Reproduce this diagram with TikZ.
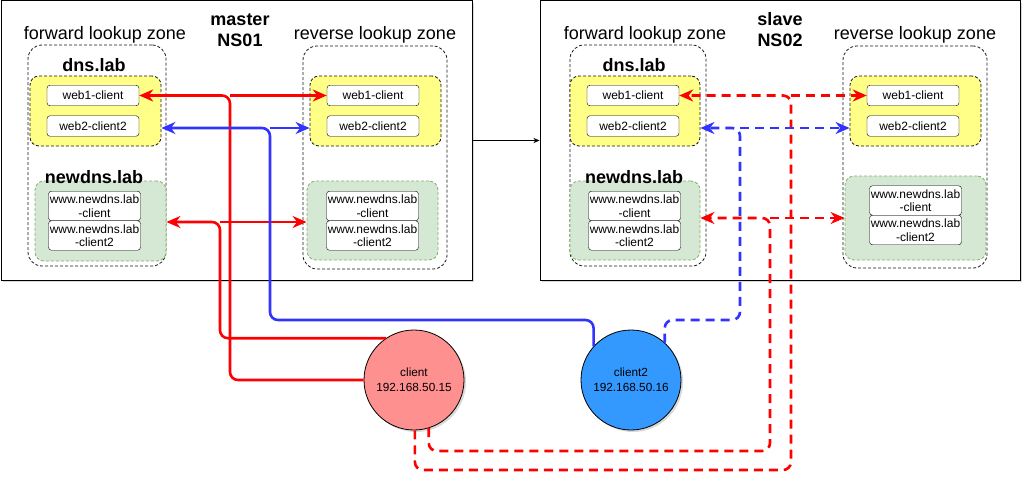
\documentclass[tikz,border=0pt]{standalone}
\usepackage{fontspec}
\setmainfont{Liberation Sans}
\usetikzlibrary{arrows.meta,fit,shadows}
\definecolor{yellowfill}{HTML}{FFFF88}
\definecolor{greenfill}{HTML}{D5E8D4}
\definecolor{greenline}{HTML}{82B366}
\definecolor{clientfill}{HTML}{FF9090}
\definecolor{clienttwofill}{HTML}{3399FF}
\definecolor{linkred}{HTML}{FF0000}
\definecolor{linkblue}{HTML}{3333FF}

\begin{document}
\begin{tikzpicture}[x=1pt,y=-1pt,
	server/.style={draw,line width=1pt,inner sep=0pt,fill=white,drop shadow={shadow xshift=2pt,shadow yshift=-2pt,opacity=.3}},
	zone/.style={draw=black!90,dash pattern=on 3pt off 2pt,rounded corners=14pt,inner sep=0pt,line width=.8pt},
	yzone/.style={draw=black!90,fill=yellowfill,dash pattern=on 3pt off 2pt,rounded corners=9pt,inner sep=0pt,line width=.8pt},
	gzone/.style={draw=greenline,fill=greenfill,dash pattern=on 3pt off 2pt,rounded corners=9pt,inner sep=0pt,line width=.8pt},
	rec/.style={draw,fill=white,rounded corners=3pt,minimum width=92pt,minimum height=20.5pt,inner sep=0pt,align=center,font=\fontsize{12}{13.5}\selectfont},
	www/.style={rec,minimum height=29.5pt},
	zonelabel/.style={font=\fontsize{18}{21}\selectfont},
	zonename/.style={font=\bfseries\fontsize{18}{21}\selectfont},
	title/.style={align=center,font=\bfseries\fontsize{18}{21}\selectfont},
	host/.style={circle,draw,line width=.8pt,minimum size=100pt,inner sep=0pt,align=center,font=\fontsize{11.8}{15}\selectfont,drop shadow={shadow xshift=2pt,shadow yshift=-2pt,opacity=.3}},
	redlink/.style={draw=linkred,line width=2.6pt,rounded corners=8pt,-{Stealth[length=14pt,width=12pt,inset=4.5pt]}},
	reddash/.style={redlink,dash pattern=on 9pt off 6pt},
	bluelink/.style={draw=linkblue,line width=2.6pt,rounded corners=8pt,-{Stealth[length=14pt,width=12pt,inset=4.5pt]}},
	bluedash/.style={bluelink,dash pattern=on 9pt off 6pt}]

	\useasboundingbox (0,0) rectangle (1032,492);

	% master
	\node[server,fit={(1,1) (472,280)}] (master) {};
	\node[title] (mtitle) at (240,30) {master\\NS01};
	\node[zonelabel] (mfzl) at (105,35) {forward lookup zone};
	\node[zonelabel] (mrzl) at (375,35) {reverse lookup zone};

	\node[zone,fit={(28,45) (166,266)}] (mfz) {};
	\node[zonename] (mfdns) at (94,65) {dns.lab};
	\node[yzone,fit={(30,76) (161,146)}] (mfy) {};
	\node[rec] (mfw1) at (93,95.5) {web1-client};
	\node[rec] (mfw2) at (93,126) {web2-client2};
	\node[gzone,fit={(35,181) (166,261)}] (mfg) {};
	\node[zonename] (mfnew) at (94,177) {newdns.lab};
	\node[www] (mfx1) at (94.5,206) {www.newdns.lab\\-client};
	\node[www] (mfx2) at (94.5,235.5) {www.newdns.lab\\-client2};

	\node[zone,fit={(303,46) (447,269)}] (mrz) {};
	\node[yzone,fit={(310,76) (441,146)}] (mry) {};
	\node[rec] (mrw1) at (373,95.5) {web1-client};
	\node[rec] (mrw2) at (373,126) {web2-client2};
	\node[gzone,fit={(307,181) (438,260)}] (mrg) {};
	\node[www] (mrx1) at (372.5,206) {www.newdns.lab\\-client};
	\node[www] (mrx2) at (372.5,235.5) {www.newdns.lab\\-client2};

	% slave
	\node[server,fit={(540,1) (1020,280)}] (slave) {};
	\node[title] (stitle) at (780,30) {slave\\NS02};
	\node[zonelabel] (sfzl) at (645,35) {forward lookup zone};
	\node[zonelabel] (srzl) at (915,35) {reverse lookup zone};

	\node[zone,fit={(570,45) (706,266)}] (sfz) {};
	\node[zonename] (sfdns) at (634,65) {dns.lab};
	\node[yzone,fit={(570,76) (700,146)}] (sfy) {};
	\node[rec] (sfw1) at (633,95.5) {web1-client};
	\node[rec] (sfw2) at (633,126) {web2-client2};
	\node[gzone,fit={(570,181) (700,260)}] (sfg) {};
	\node[zonename] (sfnew) at (634,177) {newdns.lab};
	\node[www] (sfx1) at (634.5,206) {www.newdns.lab\\-client};
	\node[www] (sfx2) at (634.5,235.5) {www.newdns.lab\\-client2};

	\node[zone,fit={(843,46) (987,268)}] (srz) {};
	\node[yzone,fit={(850,76) (981,146)}] (sry) {};
	\node[rec] (srw1) at (913,95.5) {web1-client};
	\node[rec] (srw2) at (913,126) {web2-client2};
	\node[gzone,fit={(845,176) (986,260)}] (srg) {};
	\node[www] (srx1) at (915.5,200.5) {www.newdns.lab\\-client};
	\node[www] (srx2) at (915.5,230) {www.newdns.lab\\-client2};

	\draw[-{Stealth[length=6pt,width=5pt]}] (master.east) -- (slave.west);

	% clients
	\node[host,fill=clientfill] (client) at (414,380) {client\\192.168.50.15};
	\node[host,fill=clienttwofill] (client2) at (631,380) {client2\\192.168.50.16};

	\coordinate (ma) at (230,95.5);
	\coordinate (mb) at (220,222);
	\coordinate (mc) at (270,128);
	\coordinate (mcd) at (270,320);
	\coordinate (sa) at (791,95.5);
	\coordinate (sad) at (791,470);
	\coordinate (sb) at (770,218);
	\coordinate (sbd) at (770,451);
	\coordinate (sc) at (740,128);
	\coordinate (scd) at (740,320);

	\draw[redlink] (client.west) -| (ma) -- (mfw1.east);
	\draw[redlink] (ma) -- (mrw1.west);
	\draw[redlink] (client.124) -| (mb) -- (mb -| mfg.east);
	\draw[redlink] (mb) -- (mb -| mrg.west);
	\draw[bluelink] (client2.138) |- (mcd) -- (mc) -- (mc -| mfy.east);
	\draw[bluelink] (mc) -- (mc -| mry.west);

	\draw[reddash] (client.-89) |- (sad) -- (sa) -- (sfw1.east);
	\draw[reddash] (sa) -- (srw1.west);
	\draw[reddash] (client.-73) |- (sbd) -- (sb) -- (sb -| sfg.east);
	\draw[reddash] (sb) -- (sb -| srg.west);
	\draw[bluedash] (client2.48) |- (scd) -- (sc) -- (sc -| sfy.east);
	\draw[bluedash] (sc) -- (sc -| sry.west);

\end{tikzpicture}
\end{document}
